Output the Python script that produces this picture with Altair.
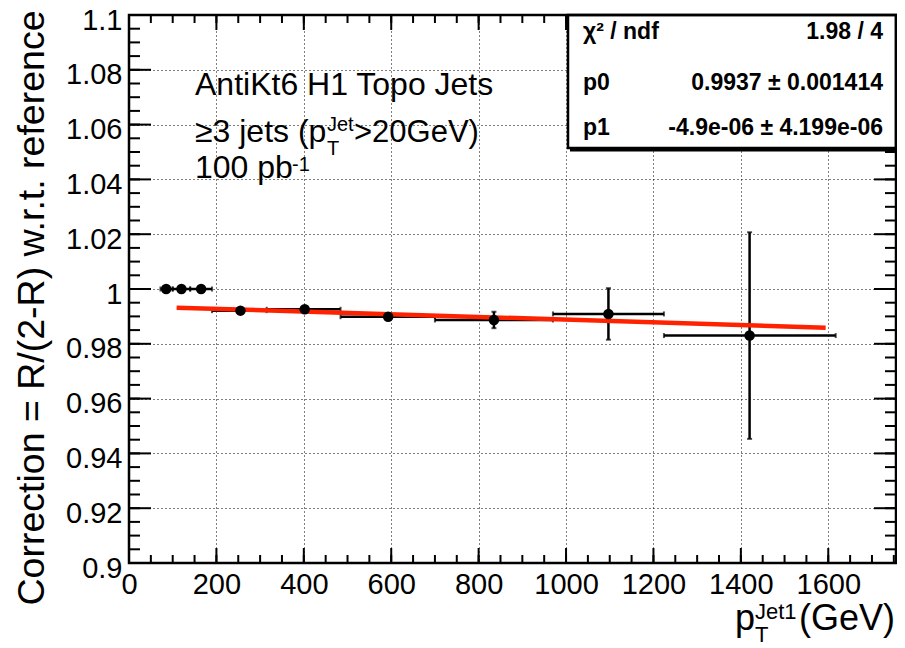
import altair as alt
import pandas as pd

FONT = "Liberation Sans"

# ---------------- data ----------------
pt_x = [85, 120, 165, 255, 402, 593, 835, 1097, 1420]
pt_y = [1.0000, 1.0000, 1.0000, 0.9921, 0.9926, 0.9899, 0.9887, 0.9909, 0.9830]
pt_xlo = [72, 100, 140, 190, 315, 484, 700, 970, 1224]
pt_xhi = [100, 140, 190, 315, 484, 700, 970, 1224, 1617]
pt_yerr = [0.0003, 0.0003, 0.0003, 0.0005, 0.0005, 0.0007, 0.0030, 0.0094, 0.0377]

fit_x = [109, 1594]
fit_y = [0.9932, 0.9859]

x_major = [0, 200, 400, 600, 800, 1000, 1200, 1400, 1600]
x_minor = list(range(0, 1751, 50))
y_major = [0.90, 0.92, 0.94, 0.96, 0.98, 1.00, 1.02, 1.04, 1.06, 1.08, 1.10]
y_minor = [round(0.9 + 0.005 * i, 3) for i in range(41)]

stat_names = ["χ² / ndf", "p0", "p1"]
stat_values = ["1.98 / 4", "0.9937 ± 0.001414", "-4.9e-06 ± 4.199e-06"]

X_DOMAIN = [0, 1755]
Y_DOMAIN = [0.9, 1.1]

# ---------------- layout ----------------
W, H = 767, 548
XS = alt.Scale(domain=X_DOMAIN, nice=False, zero=False)
YS = alt.Scale(domain=Y_DOMAIN, nice=False, zero=False)

XAX = alt.Axis(values=x_major, title=None, grid=True, ticks=False, tickSize=0,
               domain=False, labelFontSize=29, labelFont=FONT, labelColor="black",
               labelPadding=7, labelFlush=False, labelOverlap=False, format="d",
               gridColor="black", gridDash=[1, 3], gridWidth=1)
YAX = alt.Axis(values=y_major, title="Correction = R/(2-R) w.r.t. reference",
               grid=True, ticks=False, tickSize=0, domain=False,
               labelFontSize=29, labelFont=FONT, labelColor="black", labelPadding=7,
               labelFlush=False, labelOverlap=False, labelOffset=5, format=".2~f",
               gridColor="black", gridDash=[1, 3], gridWidth=1,
               titleFont=FONT, titleFontSize=37.5, titleFontWeight="normal",
               titleColor="black", titleAngle=270, titleAlign="right",
               titleBaseline="alphabetic", titleX=-86, titleY=-5)


def X(field):
    return alt.X(field, type="quantitative", scale=XS, axis=XAX)


def Y(field):
    return alt.Y(field, type="quantitative", scale=YS, axis=YAX)


df = pd.DataFrame({
    "x": pt_x, "y": pt_y, "xlo": pt_xlo, "xhi": pt_xhi,
    "ylo": [a - b for a, b in zip(pt_y, pt_yerr)],
    "yhi": [a + b for a, b in zip(pt_y, pt_yerr)],
})
fit_df = pd.DataFrame({"x": fit_x, "y": fit_y})

# grid carrier (axes)
axes = alt.Chart(df).mark_point(opacity=0).encode(x=X("x"), y=Y("y"))

# inward ticks
xmaj_df = pd.DataFrame({"v": x_major})
xmin_df = pd.DataFrame({"v": x_minor})
ymaj_df = pd.DataFrame({"v": y_major})
ymin_df = pd.DataFrame({"v": y_minor})


def xticks(d, y0, y1):
    return alt.Chart(d).mark_rule(color="black", strokeWidth=2).encode(
        x=X("v"), y=alt.value(y0), y2=alt.value(y1))


def yticks(d, x0, x1):
    return alt.Chart(d).mark_rule(color="black", strokeWidth=2).encode(
        y=Y("v"), x=alt.value(x0), x2=alt.value(x1))


ticks = [
    xticks(xmaj_df, H, H - 15), xticks(xmin_df, H, H - 8),
    xticks(xmaj_df, 0, 15), xticks(xmin_df, 0, 8),
    yticks(ymaj_df, 0, 22), yticks(ymin_df, 0, 11),
    yticks(ymaj_df, W, W - 22), yticks(ymin_df, W, W - 11),
]

one = pd.DataFrame({"a": [0]})

# stats box
box = alt.Chart(one).mark_rect(fill="white", stroke="black", strokeWidth=2.5).encode(
    x=alt.value(439), x2=alt.value(W), y=alt.value(0), y2=alt.value(133))
shadow = alt.Chart(one).mark_rule(color="black", strokeWidth=3).encode(
    x=alt.value(441), x2=alt.value(W), y=alt.value(135))

frame = alt.Chart(one).mark_rect(fillOpacity=0, stroke="black", strokeWidth=2.5).encode(
    x=alt.value(0), x2=alt.value(W), y=alt.value(0), y2=alt.value(H))

# data
hbar = alt.Chart(df).mark_rule(color="black", strokeWidth=2.5).encode(
    x=X("xlo"), x2="xhi", y=Y("y"))
vbar = alt.Chart(df).mark_rule(color="black", strokeWidth=2.5).encode(
    x=X("x"), y=Y("ylo"), y2="yhi")
cap_l = alt.Chart(df).mark_tick(color="black", orient="vertical", size=5, thickness=2).encode(
    x=X("xlo"), y=Y("y"))
cap_r = alt.Chart(df).mark_tick(color="black", orient="vertical", size=5, thickness=2).encode(
    x=X("xhi"), y=Y("y"))
cap_b = alt.Chart(df).mark_tick(color="black", orient="horizontal", size=5, thickness=2).encode(
    x=X("x"), y=Y("ylo"))
cap_t = alt.Chart(df).mark_tick(color="black", orient="horizontal", size=5, thickness=2).encode(
    x=X("x"), y=Y("yhi"))
fit = alt.Chart(fit_df).mark_line(color="#ff2200", strokeWidth=4.5).encode(
    x=X("x"), y=Y("y"))
pts = alt.Chart(df).mark_circle(color="black", opacity=1, size=110).encode(
    x=X("x"), y=Y("y"))


def txt(s, x, y, size, align="left", weight="normal"):
    return alt.Chart(pd.DataFrame({"t": [s]})).mark_text(
        align=align, baseline="alphabetic", fontSize=size, font=FONT,
        fontWeight=weight, color="black").encode(
        x=alt.value(x), y=alt.value(y), text="t:N")


labels = [
    txt("AntiKt6 H1 Topo Jets", 66, 80, 32),
    txt("≥3 jets (p", 66, 127, 32),
    txt("T", 198, 140, 20),
    txt("Jet", 198, 116, 20),
    txt(">20GeV)", 225, 127, 31),
    txt("100 pb", 66, 163, 32),
    txt("-1", 163, 156, 20),
    # x-axis title
    txt("p", 606, 615, 36),
    txt("T", 626, 627, 22),
    txt("Jet1", 626, 604, 22),
    txt("(GeV)", 766, 615, 36, align="right"),
]
row_y = [24, 75, 120]
for name, val, yy in zip(stat_names, stat_values, row_y):
    labels.append(txt(name, 454, yy, 23, weight="bold"))
    labels.append(txt(val, 754, yy, 23, align="right", weight="bold"))

chart = alt.layer(
    axes, *ticks, box, shadow, frame, hbar, vbar, cap_l, cap_r, cap_b, cap_t,
    fit, pts, *labels
).properties(
    width=W, height=H,
    autosize=alt.AutoSizeParams(type="none"),
    padding={"left": 121, "top": 7, "right": 1, "bottom": 85},
).configure_view(strokeWidth=0).configure(background="white")

chart.save("out.html", embed_options={"renderer": "svg", "actions": False})
